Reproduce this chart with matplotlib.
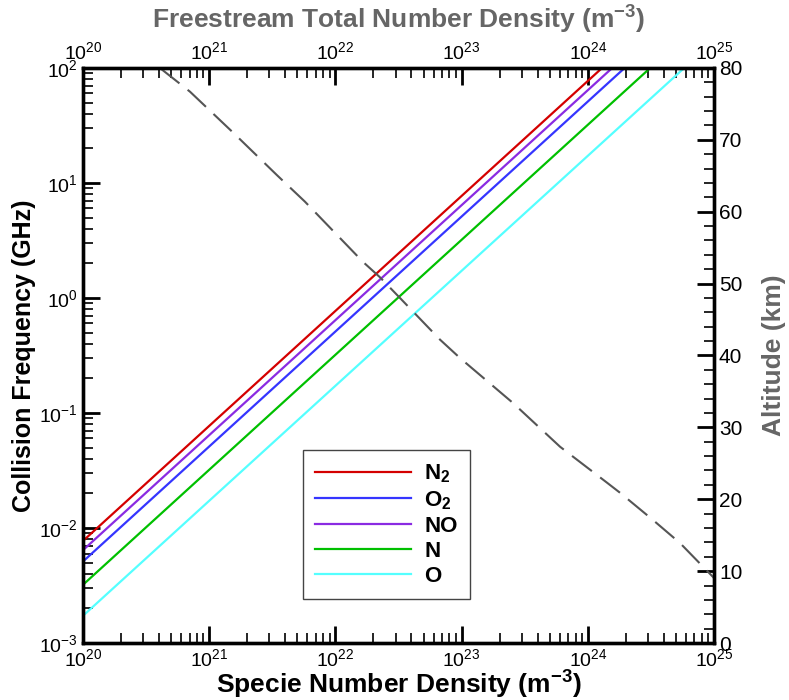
import numpy as np
import matplotlib; matplotlib.use("Agg")
import matplotlib.pyplot as plt
from matplotlib.ticker import LogLocator, MultipleLocator, NullFormatter

plt.rcParams['font.family'] = ['Liberation Sans', 'DejaVu Sans']
plt.rcParams['mathtext.fontset'] = 'custom'
plt.rcParams['mathtext.rm'] = 'Liberation Sans'
plt.rcParams['mathtext.bf'] = 'Liberation Sans:bold'
plt.rcParams['mathtext.it'] = 'Liberation Sans:italic'
plt.rcParams['axes.unicode_minus'] = False

# collision frequency (GHz) vs specie number density, straight lines on log-log
density_ends = [1e20, 1e25]
nu_N2 = [7.7e-3, 7.7e2]
nu_O2 = [5.1e-3, 5.1e2]
nu_NO = [6.4e-3, 6.4e2]
nu_N = [3.2e-3, 3.2e2]
nu_O = [1.72e-3, 1.72e2]
labels = [r"$\mathbf{N_2}$", r"$\mathbf{O_2}$", "NO", "N", "O"]
colors = ["#d40000", "#3535ff", "#8a2be2", "#00c000", "#55ffff"]

# altitude (km) vs freestream total number density (dashed)
total_density = [4.07e20, 7.05e20, 1.55e21, 3.44e21, 5.74e21, 1.66e22, 2.25e22,
                 3.25e22, 6.75e22, 9.71e22, 2.55e23, 6.03e23, 1.42e24, 1.80e24,
                 3.29e24, 5.38e24, 9.8e24, 1e25]
altitude = [80.0, 76.7, 71.0, 65.1, 61.4, 53.0, 50.9,
            48.0, 42.2, 39.65, 33.4, 27.3, 22.3, 20.9,
            17.1, 13.9, 9.2, 9.0]

fig = plt.figure(figsize=(7.89, 7.0), dpi=100)
ax = fig.add_axes([0.105, 0.0814, 0.8, 0.8216])

for nu, lab, c in zip([nu_N2, nu_O2, nu_NO, nu_N, nu_O], labels, colors):
    ax.plot(density_ends, nu, color=c, lw=1.6, label=lab)

ax.set_xscale("log"); ax.set_yscale("log")
ax.set_xlim(1e20, 1e25); ax.set_ylim(1e-3, 1e2)
ax.xaxis.set_major_locator(LogLocator(base=10, numticks=10))
ax.xaxis.set_minor_locator(LogLocator(base=10, subs=np.arange(2, 10), numticks=20))
ax.yaxis.set_minor_locator(LogLocator(base=10, subs=np.arange(2, 10), numticks=20))
ax.xaxis.set_minor_formatter(NullFormatter()); ax.yaxis.set_minor_formatter(NullFormatter())
ax.tick_params(which="both", direction="in", labelsize=14, width=1.2)
ax.tick_params(which="major", length=12, width=2)
ax.tick_params(which="minor", length=7)
for s in ax.spines.values():
    s.set_linewidth(2.4)
ax.set_xlabel(r"Specie Number Density (m$^{\mathbf{-3}}$)", fontsize=19, fontweight="bold", labelpad=-1)
ax.set_ylabel("Collision Frequency (GHz)", fontsize=18, fontweight="bold", labelpad=2)

leg = ax.legend(loc="upper left", bbox_to_anchor=(0.349, 0.335), prop={"weight": "bold", "size": 16},
                handlelength=4.3, handletextpad=0.6, labelspacing=0.18, borderpad=0.55,
                fancybox=False, framealpha=1, borderaxespad=0)
leg.get_frame().set_edgecolor("#444444"); leg.get_frame().set_linewidth(1.0)

# right axis: altitude
ax2 = ax.twinx()
ax2.plot(total_density, altitude, color="#555555", lw=1.5, dashes=(12, 5))
ax2.set_ylim(0, 80)
ax2.yaxis.set_major_locator(MultipleLocator(10))
ax2.yaxis.set_minor_locator(MultipleLocator(2))
ax2.tick_params(which="both", direction="in", labelsize=15)
ax2.tick_params(which="major", length=12, width=2)
ax2.tick_params(which="minor", length=7, width=1.2)
for s in ax2.spines.values():
    s.set_linewidth(2.4)
ax2.set_ylabel("Altitude (km)", fontsize=19, fontweight="bold", color="#666666", labelpad=14)

# top axis: freestream total number density
top = ax.secondary_xaxis("top")
top.set_xscale("log")
top.xaxis.set_minor_locator(LogLocator(base=10, subs=np.arange(2, 10), numticks=20))
top.xaxis.set_minor_formatter(NullFormatter())
top.tick_params(which="both", direction="in", labelsize=14)
top.tick_params(which="major", length=12, width=2)
top.tick_params(which="minor", length=7, width=1.2)
top.set_xlabel(r"Freestream Total Number Density (m$^{\mathbf{-3}}$)", fontsize=19,
               fontweight="bold", color="#666666", labelpad=9)

fig.savefig("out.png", dpi=100)
